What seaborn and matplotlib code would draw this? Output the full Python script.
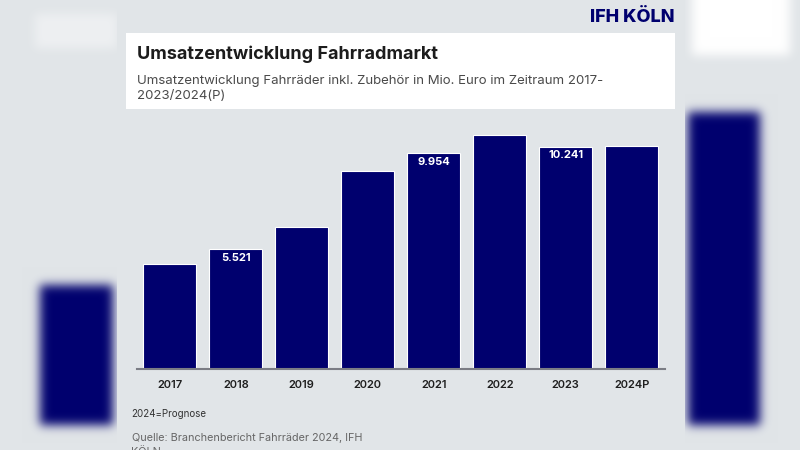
import numpy as np
import pandas as pd
import matplotlib
matplotlib.use("Agg")
import matplotlib.pyplot as plt
from matplotlib.patches import Rectangle
import seaborn as sns

# ---- data ----
years = ["2017", "2018", "2019", "2020", "2021", "2022", "2023", "2024P"]
umsatz = [4850, 5521, 6560, 9130, 9954, 10800, 10241, 10280]
value_labels = ["", "5.521", "", "", "9.954", "", "10.241", ""]

title = "Umsatzentwicklung Fahrradmarkt"
subtitle = "Umsatzentwicklung Fahrräder inkl. Zubehör in Mio. Euro im Zeitraum 2017-\n2023/2024(P)"
brand = "IFH KÖLN"
note = "2024=Prognose"
source_l1 = "Quelle: Branchenbericht Fahrräder 2024, IFH"
source_l2 = "KÖLN"

sns.set_theme(style="white")
plt.rcParams['font.family'] = ['Inter', 'DejaVu Sans']

W, H = 800, 450
bg = np.array([225, 229, 232]) / 255.0
navy = "#00006e"

fig = plt.figure(figsize=(8, 4.5), dpi=100)
fig.patch.set_facecolor(bg)

# ---- blurred decorative backdrop ----
img = np.ones((H, W, 3)) * bg
def block(x0, x1, y0, y1, col):
    img[y0:y1, x0:x1] = col
block(35, 117, 14, 48, np.array([238, 240, 242]) / 255.0)
block(692, 790, 0, 55, np.array([1.0, 1.0, 1.0]))
block(40, 113, 285, 425, np.array([0, 0, 110]) / 255.0)
block(688, 760, 112, 425, np.array([0, 0, 110]) / 255.0)
sig = 5.0
xs = np.arange(-18, 19)
kern = np.exp(-xs**2 / (2 * sig**2)); kern /= kern.sum()
pad = 18
for c in range(3):
    ch = np.pad(img[:, :, c], pad, mode='edge')
    ch = np.apply_along_axis(lambda r: np.convolve(r, kern, mode='same'), 1, ch)
    ch = np.apply_along_axis(lambda r: np.convolve(r, kern, mode='same'), 0, ch)
    img[:, :, c] = ch[pad:-pad, pad:-pad]
img[:, 117:685] = bg
fig.figimage((np.clip(img, 0, 1) * 255).astype(np.uint8), 0, 0, origin='upper', zorder=0)

def fx(px): return px / W
def fy(py): return 1 - py / H

# header card
fig.patches.append(Rectangle((fx(126.5), fy(109.3)), fx(674.5) - fx(126.5), fy(32.7) - fy(109.3),
                             transform=fig.transFigure, facecolor="white", edgecolor="none", zorder=1))
fig.text(fx(137), fy(54), title, fontsize=13, fontweight='bold', color="#1c1c1c",
         va='center', ha='left', zorder=2)
fig.text(fx(137), fy(88.5), subtitle, fontsize=9.5, color="#4a4a4a", va='center', ha='left',
         linespacing=1.3, zorder=2)
fig.text(fx(674.5), fy(17), brand, fontsize=13, fontweight='heavy', color=navy,
         va='center', ha='right', zorder=2)

# ---- bar chart ----
ax = fig.add_axes([fx(136.8), fy(369), fx(664.6) - fx(136.8), fy(130.7) - fy(369)])
ax.set_zorder(3)
ax.set_facecolor("none")
df = pd.DataFrame({"Jahr": years, "Umsatz": umsatz})
sns.barplot(data=df, x="Jahr", y="Umsatz", color=navy, saturation=1, width=0.8,
            edgecolor="white", linewidth=0.8, ax=ax)
ax.set_ylim(0, 11000)
ax.set_xlim(-0.5, 7.5)
ax.set_xlabel("")
ax.set_ylabel("")
ax.set_yticks([])
for s in ["left", "right", "top"]:
    ax.spines[s].set_visible(False)
ax.spines["bottom"].set_color("#7b7d85")
ax.spines["bottom"].set_linewidth(1.5)
ax.tick_params(axis='x', length=0, pad=8, labelsize=8, labelcolor="#1e1e1e")
for lab in ax.get_xticklabels():
    lab.set_fontweight('semibold')
ax.bar_label(ax.containers[0], labels=value_labels, padding=-9.5, color="white",
             fontsize=8, fontweight='bold')

fig.text(fx(131.5), fy(414), note, fontsize=7, color="#333333", va='center', ha='left', zorder=2)
fig.text(fx(131.5), fy(438), source_l1, fontsize=7.8, color="#666666", va='center', ha='left', zorder=2)
fig.text(fx(131.5), fy(452), source_l2, fontsize=7.8, color="#666666", va='center', ha='left', zorder=2)

fig.savefig("out.png", dpi=100, facecolor=fig.get_facecolor())
